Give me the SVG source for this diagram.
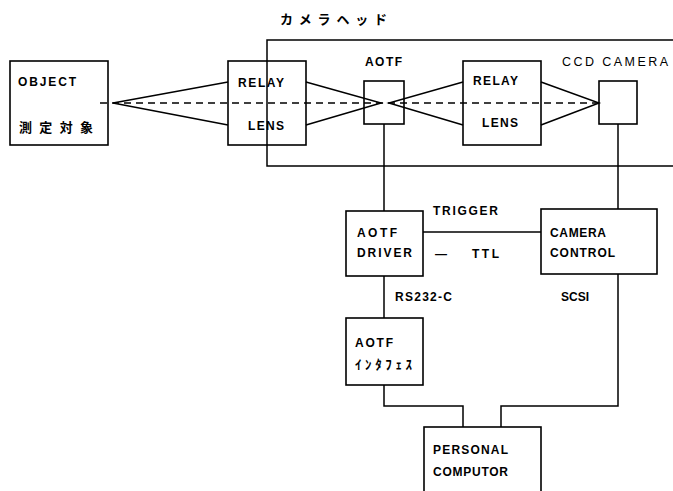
<svg xmlns="http://www.w3.org/2000/svg" width="673" height="491" viewBox="0 0 673 491">
<style>
.box{fill:none;stroke:#000;stroke-width:1.6}
.ln{fill:none;stroke:#000;stroke-width:1.5}
.ds{fill:none;stroke:#000;stroke-width:1.5;stroke-dasharray:7 5}
.t{font-family:"Liberation Sans","DejaVu Sans",sans-serif;font-weight:bold;font-size:12px;fill:#000;dominant-baseline:central}
.j{font-family:"Noto Sans CJK JP","Noto Sans",sans-serif;font-weight:bold;font-size:13px;fill:#000;dominant-baseline:central}
.r{font-family:"Liberation Sans","DejaVu Sans",sans-serif;font-size:12.5px;fill:#000;dominant-baseline:central}
</style>
<rect width="673" height="491" fill="#fff"/>
<g id="camera-head">
<path class="ln" d="M673,40 H267 V166 H673"/>
<text class="j" x="280" y="18" textLength="107" lengthAdjust="spacing">カメラヘッド</text>
</g>
<g id="object">
<rect class="box" x="10" y="61" width="98" height="84"/>
<text class="t" x="18" y="82" textLength="58" lengthAdjust="spacing">OBJECT</text>
<text class="j" x="19" y="126" textLength="74" lengthAdjust="spacing">測定対象</text>
</g>
<g id="relay-lens-1">
<rect class="box" x="228" y="61" width="78" height="84"/>
<text class="t" x="238" y="83" textLength="46" lengthAdjust="spacing">RELAY</text>
<text class="t" x="248" y="126" textLength="36" lengthAdjust="spacing">LENS</text>
</g>
<g id="aotf">
<rect class="box" x="364" y="81" width="40" height="43"/>
<text class="t" x="365" y="62" textLength="37" lengthAdjust="spacing">AOTF</text>
</g>
<g id="relay-lens-2">
<rect class="box" x="463" y="61" width="78" height="84"/>
<text class="t" x="473" y="81" textLength="45" lengthAdjust="spacing">RELAY</text>
<text class="t" x="482" y="123" textLength="36" lengthAdjust="spacing">LENS</text>
</g>
<g id="ccd-camera">
<rect class="box" x="599" y="81" width="38" height="43"/>
<text class="r" x="562" y="62" textLength="106" lengthAdjust="spacing">CCD CAMERA</text>
</g>
<g id="aotf-driver">
<rect class="box" x="346" y="211" width="77" height="65"/>
<text class="t" x="357" y="233" textLength="40" lengthAdjust="spacing">AOTF</text>
<text class="t" x="357" y="253" textLength="55" lengthAdjust="spacing">DRIVER</text>
</g>
<g id="camera-control">
<rect class="box" x="541" y="209" width="116" height="65"/>
<text class="t" x="550" y="233" textLength="56" lengthAdjust="spacing">CAMERA</text>
<text class="t" x="550" y="253" textLength="65" lengthAdjust="spacing">CONTROL</text>
</g>
<g id="aotf-interface">
<rect class="box" x="346" y="318" width="77" height="67"/>
<text class="t" x="355" y="343" textLength="38" lengthAdjust="spacing">AOTF</text>
<text class="j" x="355" y="363" textLength="57" lengthAdjust="spacing" font-size="12">ｲﾝﾀﾌｪｽ</text>
</g>
<g id="personal-computor">
<rect class="box" x="424" y="427" width="117" height="70"/>
<text class="t" x="433" y="450" textLength="75" lengthAdjust="spacing">PERSONAL</text>
<text class="t" x="433" y="472" textLength="75" lengthAdjust="spacing">COMPUTOR</text>
</g>
<g id="connectors">
<line class="ds" x1="100" y1="103" x2="599" y2="103"/>
<path class="ln" d="M228,82 L113,103 L228,125"/>
<path class="ln" d="M306,82 L381,103 L306,125"/>
<path class="ln" d="M463,82 L389,103 L463,125"/>
<path class="ln" d="M541,82 L599,103 L541,125"/>
<line class="ln" x1="384" y1="124" x2="384" y2="211"/>
<line class="ln" x1="618" y1="124" x2="618" y2="209"/>
<line class="ln" x1="423" y1="232" x2="541" y2="232"/>
<line class="ln" x1="384" y1="276" x2="384" y2="318"/>
<path class="ln" d="M384,385 V406 H463 V427"/>
<path class="ln" d="M618,274 V406 H501 V427"/>
<text class="t" x="433" y="211" textLength="65" lengthAdjust="spacing">TRIGGER</text>
<text class="t" x="435" y="254">—</text>
<text class="t" x="472" y="254" font-size="11" textLength="27" lengthAdjust="spacing">TTL</text>
<text class="t" x="395" y="297" textLength="57" lengthAdjust="spacing">RS232-C</text>
<text class="t" x="561" y="297" font-size="11" textLength="28" lengthAdjust="spacing">SCSI</text>
</g>
</svg>
